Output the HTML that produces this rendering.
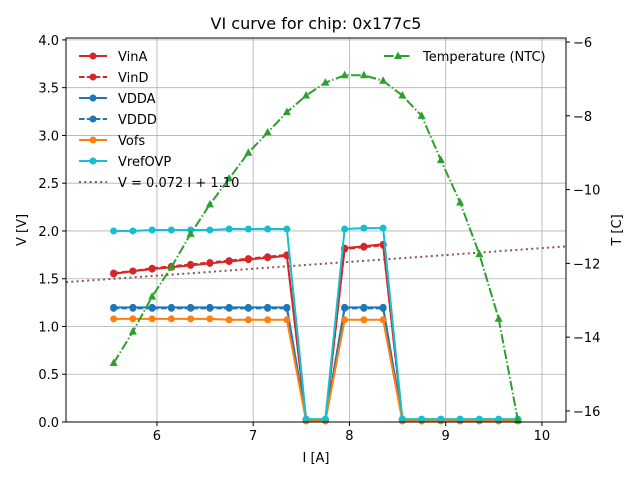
<!DOCTYPE html>
<html><head><meta charset="utf-8"><style>
body{margin:0;background:#fff}
svg text{font-family:"DejaVu Sans","Liberation Sans",sans-serif;fill:#000}
</style></head><body>
<svg id="chart" width="640" height="480" viewBox="0 0 640 480"></svg>
<script>
const currents=[5.55,5.75,5.95,6.15,6.35,6.55,6.75,6.95,7.15,7.35,7.55,7.75,7.95,8.15,8.35,8.55,8.75,8.95,9.15,9.35,9.55,9.75];
const vinA=[1.55,1.58,1.60,1.62,1.64,1.66,1.68,1.70,1.72,1.74,0.02,0.02,1.82,1.84,1.86,0.02,0.02,0.02,0.02,0.02,0.02,0.02];
const vinD=[1.56,1.58,1.61,1.63,1.65,1.67,1.69,1.71,1.73,1.75,0.02,0.02,1.81,1.83,1.85,0.02,0.02,0.02,0.02,0.02,0.02,0.02];
const vdda=[1.20,1.20,1.20,1.20,1.20,1.20,1.20,1.20,1.20,1.20,0.02,0.02,1.20,1.20,1.20,0.02,0.02,0.02,0.02,0.02,0.02,0.02];
const vddd=[1.19,1.19,1.19,1.19,1.19,1.19,1.19,1.19,1.19,1.19,0.02,0.02,1.19,1.19,1.19,0.02,0.02,0.02,0.02,0.02,0.02,0.02];
const vofs=[1.08,1.08,1.08,1.08,1.08,1.08,1.07,1.07,1.07,1.07,0.01,0.01,1.07,1.07,1.07,0.01,0.01,0.01,0.01,0.01,0.01,0.01];
const vref=[2.00,2.00,2.01,2.01,2.01,2.01,2.02,2.02,2.02,2.02,0.03,0.03,2.02,2.03,2.03,0.03,0.03,0.03,0.03,0.03,0.03,0.03];
const temps=[-14.7,-13.85,-12.9,-12.1,-11.2,-10.4,-9.7,-9.0,-8.45,-7.9,-7.45,-7.1,-6.9,-6.9,-7.05,-7.45,-8.0,-9.2,-10.35,-11.75,-13.5,-16.25];
const fitSlope=0.072, fitIntercept=1.10;
const xTicks=[6,7,8,9,10];
const yTicks=[0,0.5,1.0,1.5,2.0,2.5,3.0,3.5,4.0];
const tTicks=[-6,-8,-10,-12,-14,-16];

const L=66,R=566,T=38,B=422;
const xMin=5.055,xMax=10.25,yMin=0,yMax=4.02,tMin=-16.3,tMax=-5.89;
const sx=v=>L+(v-xMin)/(xMax-xMin)*(R-L);
const sy=v=>B-(v-yMin)/(yMax-yMin)*(B-T);
const st=v=>B-(v-tMin)/(tMax-tMin)*(B-T);
const svg=document.getElementById('chart');
const NS='http://www.w3.org/2000/svg';
function mk(tag,attrs,parent){const e=document.createElementNS(NS,tag);for(const k in attrs)e.setAttribute(k,attrs[k]);(parent||svg).appendChild(e);return e;}

// grid
xTicks.forEach(v=>{const g=mk('line',{x1:sx(v),x2:sx(v),y1:T,y2:B,stroke:'#b0b0b0','stroke-width':0.8});

});
yTicks.forEach(v=>{const g=mk('line',{x1:L,x2:R,y1:sy(v),y2:sy(v),stroke:'#b0b0b0','stroke-width':0.8});

});

// fit line
const fit=mk('line',{x1:L,x2:R,y1:sy(fitSlope*xMin+fitIntercept),y2:sy(fitSlope*xMax+fitIntercept),stroke:'#8c564b','stroke-width':2,'stroke-dasharray':'2,3.3'});



function series(vals,color,dash,name,scale){
  const g=mk('g',{});
  
  
  const pts=currents.map((c,i)=>sx(c)+','+scale(vals[i])).join(' ');
  mk('polyline',{points:pts,fill:'none',stroke:color,'stroke-width':2,'stroke-dasharray':dash||'none'},g);
  return g;
}
const lines=[[vinA,'#d62728',null,'series-vina'],[vinD,'#d62728','5.5,2.4','series-vind'],[vdda,'#1f77b4',null,'series-vdda'],[vddd,'#1f77b4','5.5,2.4','series-vddd'],[vofs,'#ff7f0e',null,'series-vofs'],[vref,'#17becf',null,'series-vrefovp']];
lines.forEach(s=>{const g=series(s[0],s[1],s[2],s[3],sy);
  currents.forEach((c,i)=>{const p=mk('circle',{cx:sx(c),cy:sy(s[0][i]),r:3.5,fill:s[1]},g);
  
  });});

// temperature
const tg=series(temps,'#2ca02c','9.6,2.4,1.5,2.4','series-temperature',st);
currents.forEach((c,i)=>{const x=sx(c),y=st(temps[i]);
  const p=mk('polygon',{points:`${x},${y-4.5} ${x-4},${y+3} ${x+4},${y+3}`,fill:'#2ca02c'},tg);
  
  });

// frame
const fr=mk('rect',{x:L,y:T,width:R-L,height:B-T,fill:'none',stroke:'#000','stroke-width':1});



// ticks
xTicks.forEach(v=>{mk('line',{x1:sx(v),x2:sx(v),y1:B,y2:B+4,stroke:'#000'});
 const t=mk('text',{x:sx(v),y:B+18,'text-anchor':'middle','font-size':13});t.textContent=v;
 
 });
yTicks.forEach(v=>{mk('line',{x1:L-4,x2:L,y1:sy(v),y2:sy(v),stroke:'#000'});
 const t=mk('text',{x:L-7,y:sy(v)+5,'text-anchor':'end','font-size':13});t.textContent=v.toFixed(1);
 
 });
tTicks.forEach(v=>{mk('line',{x1:R,x2:R+4,y1:st(v),y2:st(v),stroke:'#000'});
 const t=mk('text',{x:R+7,y:st(v)+5,'text-anchor':'start','font-size':13});t.textContent=String(v).replace('-','\u2212');
 
 });

// legend
const leg=[['VinA','#d62728',null,'o'],['VinD','#d62728','5.5,2.4','o'],['VDDA','#1f77b4',null,'o'],['VDDD','#1f77b4','5.5,2.4','o'],['Vofs','#ff7f0e',null,'o'],['VrefOVP','#17becf',null,'o'],['V = 0.072 I + 1.10','#8c564b','2,3.3','']];
leg.forEach((e,i)=>{const y=56+i*21;const g=mk('g',{});
 
 
 mk('line',{x1:79,x2:107,y1:y,y2:y,stroke:e[1],'stroke-width':2,'stroke-dasharray':e[2]||'none'},g);
 if(e[3])mk('circle',{cx:93,cy:y,r:3.5,fill:e[1]},g);
 const t=mk('text',{x:118,y:y+5,'font-size':13},g);t.textContent=e[0];});
const lg=mk('g',{});


mk('line',{x1:384,x2:412,y1:56,y2:56,stroke:'#2ca02c','stroke-width':2,'stroke-dasharray':'9.6,2.4,1.5,2.4'},lg);
mk('polygon',{points:'398,51.5 394,59 402,59',fill:'#2ca02c'},lg);
const lt=mk('text',{x:423,y:61,'font-size':13},lg);lt.textContent='Temperature (NTC)';

// titles
const ti=mk('text',{x:316,y:29,'text-anchor':'middle','font-size':16});ti.textContent='VI curve for chip: 0x177c5';


const xl=mk('text',{x:316,y:462,'text-anchor':'middle','font-size':13});xl.textContent='I [A]';


const yl=mk('text',{x:26,y:230,'text-anchor':'middle','font-size':13,transform:'rotate(-90 26 230)'});yl.textContent='V [V]';


const tl=mk('text',{x:621,y:230,'text-anchor':'middle','font-size':13,transform:'rotate(-90 621 230)'});tl.textContent='T [C]';


</script>
</body></html>
